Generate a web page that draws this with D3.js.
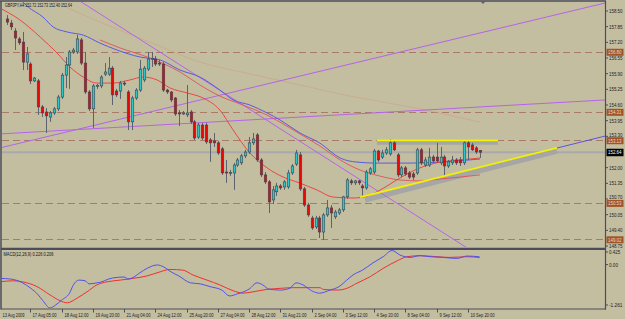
<!DOCTYPE html>
<html><head><meta charset="utf-8">
<script src="https://cdn.jsdelivr.net/npm/d3@7"></script>
<style>body{margin:0;background:#c4bea0;overflow:hidden}</style>
</head><body>
<svg id="c" width="625" height="319"></svg>
<script>
// ---------- DATA ----------
const chartTitle = "GBPJPY,H4 152.72 152.73 152.40 152.64";
const macdTitle = "MACD(12,26,9) 0.226 0.206";
// OHLC per H4 bar: [open, high, low, close]
const candles = [
[158.17,158.33,157.92,158.04],[158.00,158.13,157.71,157.84],[157.67,157.79,156.88,157.38],[157.34,157.42,157.09,157.18],
[157.21,157.63,156.05,156.38],[156.38,157.01,156.05,156.72],[156.30,156.38,155.47,155.60],[155.60,155.76,155.55,155.72],
[155.60,155.68,154.19,154.52],[154.52,154.60,154.10,154.27],[154.31,154.47,153.44,154.15],[154.10,154.35,153.90,154.27],
[154.27,154.52,154.19,154.44],[154.44,155.02,154.35,154.93],[154.93,155.93,154.85,155.84],[155.84,156.59,155.30,156.26],
[156.26,156.88,155.27,156.80],[156.80,156.97,156.72,156.88],[156.80,157.51,156.72,157.34],[157.30,157.38,156.26,156.34],
[156.34,156.80,155.06,155.14],[155.14,155.22,154.35,154.44],[154.44,155.47,153.65,155.39],[155.39,155.47,155.27,155.41],
[155.39,155.84,155.30,155.76],[155.88,156.34,155.80,155.97],[155.88,156.59,155.80,156.13],[156.13,156.22,154.60,155.02],
[155.18,155.27,154.93,155.02],[155.18,155.60,154.85,155.51],[155.51,155.60,155.39,155.47],[155.14,155.22,153.56,153.90],
[153.90,154.98,153.56,154.89],[154.89,155.30,154.81,155.22],[155.22,156.47,155.14,156.09],[155.64,156.22,155.55,156.13],
[156.09,156.80,156.01,156.51],[156.51,156.80,156.18,156.53],[156.51,156.63,156.22,156.30],[156.34,156.47,156.22,156.32],
[156.30,156.38,155.14,155.22],[155.22,155.27,155.06,155.14],[155.14,155.18,154.72,154.81],[154.89,154.93,154.15,154.23],
[154.27,154.39,153.73,154.25],[154.23,154.35,154.19,154.27],[154.19,155.43,154.10,154.27],[154.31,154.39,153.81,153.90],
[153.90,153.98,153.15,153.23],[153.27,153.86,153.19,153.77],[153.77,153.86,153.15,153.23],[153.77,153.86,152.98,153.07],
[153.15,153.23,152.24,153.03],[153.11,153.44,152.86,153.03],[153.03,153.11,152.53,152.61],[152.78,152.86,151.70,151.78],
[151.82,152.32,151.37,151.80],[151.78,151.91,151.66,151.80],[151.78,152.20,151.08,152.11],[152.11,152.40,152.03,152.32],
[152.20,152.57,152.11,152.49],[152.49,152.74,152.40,152.65],[152.65,153.27,152.57,153.03],[153.03,153.44,152.94,153.19],
[153.36,153.44,152.24,152.32],[152.32,152.40,151.61,151.70],[151.70,151.82,151.32,151.41],[151.41,151.49,150.12,150.58],
[150.66,151.24,150.49,151.08],[151.00,151.37,150.83,151.24],[151.24,151.32,151.08,151.16],[151.20,151.49,151.08,151.41],
[151.20,151.91,151.12,151.78],[151.78,152.15,151.70,152.07],[152.15,152.74,152.07,152.61],[152.53,152.65,151.03,151.12],
[151.12,151.20,150.37,150.45],[150.45,150.54,149.96,150.04],[149.91,150.00,149.42,149.50],[149.54,150.00,149.46,149.91],
[149.91,150.00,149.08,149.33],[149.33,150.12,149.00,150.04],[150.04,150.66,149.96,150.33],[150.33,150.45,149.50,150.12],
[149.96,150.25,149.87,150.16],[150.12,150.33,150.04,150.25],[150.25,150.83,150.16,150.79],[150.79,151.57,150.70,151.49],
[151.45,151.53,151.28,151.37],[151.37,151.49,151.28,151.45],[151.45,151.49,151.28,151.37],[151.24,151.32,150.83,151.16],
[151.16,151.91,151.08,151.82],[151.78,152.03,151.70,151.95],[151.82,152.78,151.74,152.69],[152.69,152.74,152.24,152.32],
[152.44,152.74,152.36,152.61],[152.61,152.86,152.53,152.74],[152.57,153.19,152.49,153.03],[153.03,153.11,152.69,152.74],
[152.53,152.61,151.61,151.70],[151.70,152.07,151.61,151.99],[151.99,152.07,151.66,151.74],[151.78,151.86,151.53,151.61],
[151.74,151.82,151.49,151.61],[151.78,152.82,151.70,152.74],[152.74,152.82,152.11,152.20],[152.11,152.44,152.03,152.32],
[152.11,152.82,152.03,152.44],[152.44,152.53,152.20,152.28],[152.44,153.03,152.20,152.28],[152.20,152.86,152.11,152.44],
[152.44,152.53,151.61,152.07],[152.07,152.32,151.99,152.24],[152.20,152.49,152.11,152.32],[152.32,152.40,152.11,152.20],
[152.32,152.44,152.07,152.20],[152.20,153.11,152.11,153.03],[153.03,153.11,152.32,152.86],[152.94,153.03,152.69,152.74],
[152.82,152.90,152.57,152.65],[152.72,152.73,152.40,152.64]
];
const priceTicks = [158.50,157.85,157.20,156.55,155.90,155.25,154.60,153.95,153.30,152.00,151.35,150.70,150.05,149.40,148.75];
const levelPrices = [156.80,154.31,153.13,150.53,149.02];
const bidPrice = 152.64;
const macdTicks = [0.425,0.00,-1.261];
const timeTickBars = [-1.5,6,14,22,30,38,46,54,62,70,78,86,94,102,110,118];
const timeTickLabels = ["13 Aug 2009","17 Aug 05:00","18 Aug 12:00","19 Aug 20:00","21 Aug 04:00","24 Aug 12:00","25 Aug 20:00","27 Aug 04:00","28 Aug 12:00","31 Aug 21:00","2 Sep 04:00","3 Sep 12:00","4 Sep 20:00","8 Sep 04:00","9 Sep 12:00","10 Sep 20:00"];
// moving averages: [bar index, price]
const maBlue = [[3.3,159.00],[5.4,158.67],[9.2,158.25],[11.8,157.84],[15.4,157.63],[19.5,157.50],[23.8,157.17],[28.2,156.88],[34.1,156.59],[39.2,156.47],[44.3,156.05],[49.4,155.76],[54.5,155.22],[57.9,154.81],[62.2,154.60],[66.6,154.27],[69.9,153.98],[75.0,153.44],[80.1,153.02],[85.3,152.40],[89.6,152.23],[94.7,152.19],[103.2,152.19],[110.9,152.23],[121.1,152.36]];
const maRedFast = [[-1.8,158.62],[3.3,158.13],[8.5,157.42],[12.8,156.76],[16.1,156.18],[19.5,155.76],[23.0,155.51],[27.1,155.51],[31.5,155.64],[34.8,155.76],[38.4,155.64],[41.7,155.31],[46.1,155.10],[50.2,154.89],[54.5,154.39],[57.9,153.56],[62.2,152.61],[66.6,151.99],[70.7,151.61],[75.0,151.36],[79.4,151.07],[83.5,150.78],[88.6,150.74],[92.2,150.82],[95.5,151.07],[100.6,151.57],[105.7,151.99],[110.9,152.23],[116.0,152.32],[121.1,152.40]];
const maRedMid = [[23.8,157.30],[28.9,156.97],[36.6,156.55],[44.3,155.97],[49.4,155.43],[54.5,154.97],[59.7,154.64],[66.6,154.18],[69.9,153.89],[75.0,153.40],[80.1,152.90],[85.3,152.32],[90.4,151.90],[95.5,151.65],[100.6,151.49],[105.7,151.45],[110.9,151.53],[116.0,151.61],[121.1,151.70]];
const maSlow = [[11.0,158.96],[23.8,158.04],[36.6,157.21],[49.4,156.38],[62.2,155.89],[75.0,155.43],[87.8,154.97],[103.2,154.52],[121.1,153.89]];
// trend lines: [[bar, price],[bar, price]]
const purpleLines = [
  [[-1.8,152.82],[153.1,158.83]],
  [[-1.8,153.40],[153.1,154.81]],
  [[18.2,158.96],[117.8,148.67]]
];
const blueRay = [[90.4,150.78],[153.1,153.31]];
const yellowLines = [
  [[94.7,153.13],[125.7,153.13]],
  [[90.4,150.78],[140.8,152.82]]
];
const grayBands = [
  [[94.7,153.05],[125.7,153.05]],
  [[91.7,150.66],[140.8,152.68]]
];
// MACD lines: [bar index, value]
const macdMain = [[-1.8,-0.40],[1,-0.42],[4,-0.53],[6,-0.68],[8,-0.88],[9.2,-1.05],[11,-1.26],[12.5,-1.17],[14,-1.03],[16,-0.83],[17,-0.59],[18.4,-0.45],[20,-0.47],[21,-0.56],[23,-0.53],[24,-0.51],[26,-0.42],[27,-0.39],[30,-0.36],[31,-0.42],[32,-0.39],[34,-0.24],[36,-0.10],[38.5,-0.01],[40,-0.06],[42,-0.21],[44,-0.33],[47,-0.53],[49.5,-0.56],[52,-0.64],[55,-0.74],[57,-0.91],[59,-0.85],[62,-0.71],[64,-0.53],[65.5,-0.59],[67,-0.71],[70,-0.74],[72.5,-0.68],[74,-0.53],[75.8,-0.59],[78,-0.76],[80,-0.83],[82.7,-0.74],[85,-0.64],[87,-0.45],[88.6,-0.30],[91,-0.16],[93.7,0.05],[96.3,0.23],[98.6,0.41],[100.6,0.28],[103.2,0.21],[105.7,0.26],[108.3,0.23],[111.6,0.21],[115.2,0.18],[117.8,0.25],[121,0.226]];
const macdSignal = [[-1.8,-0.50],[1.5,-0.47],[4,-0.50],[7.7,-0.64],[11,-0.88],[13.6,-1.05],[15.4,-1.11],[18,-0.97],[20.5,-0.79],[23,-0.59],[25.6,-0.50],[29,-0.45],[32.3,-0.40],[35.8,-0.33],[39.2,-0.21],[41.7,-0.14],[45,-0.16],[47.6,-0.30],[51.2,-0.45],[54.5,-0.59],[57.9,-0.76],[60.4,-0.83],[63,-0.79],[66.6,-0.72],[69.9,-0.69],[73.2,-0.67],[76.8,-0.67],[80.1,-0.67],[81,-0.72],[84.5,-0.74],[87,-0.69],[89.6,-0.54],[93,-0.35],[96.3,-0.11],[99.9,0.11],[102.4,0.23],[105.7,0.26],[110.1,0.23],[113.4,0.21],[117.8,0.23],[121,0.206]];

// ---------- DRAW ----------
const svg = d3.select("#c");
const BG = "#c4bea0", FRAME = "#4c4c5c";
const plotL = 2, plotR = 605, mainT = 2, mainB = 248, macdT = 250, macdB = 308;
const x = d3.scaleLinear().domain([0,121]).range([7,479.6]);
const y = d3.scaleLinear().domain([148.75,158.50]).range([246,11]);
const ym = d3.scaleLinear().domain([-1.261,0.425]).range([308,250]);
const FONT = "'Liberation Sans',Arial,sans-serif";

svg.append("rect").attr("width",625).attr("height",319).attr("fill",BG);
const defs = svg.append("defs");
defs.append("clipPath").attr("id","cm").append("rect").attr("x",plotL).attr("y",mainT).attr("width",plotR-plotL).attr("height",mainB-mainT-1);
defs.append("clipPath").attr("id","cd").append("rect").attr("x",plotL).attr("y",macdT).attr("width",plotR-plotL).attr("height",macdB-macdT);

const gm = svg.append("g").attr("clip-path","url(#cm)");
const seg = d3.line().x(d=>x(d[0])).y(d=>y(d[1]));
const smooth = d3.line().x(d=>x(d[0])).y(d=>y(d[1])).curve(d3.curveMonotoneX);

// level lines
gm.selectAll(".lvl").data(levelPrices).join("line")
  .attr("x1",plotL).attr("x2",plotR).attr("y1",d=>Math.round(y(d))+0.5).attr("y2",d=>Math.round(y(d))+0.5)
  .attr("stroke","#aa7a68").attr("stroke-width",1).attr("stroke-dasharray","7,4");
// bid line
gm.append("line").attr("x1",plotL).attr("x2",plotR).attr("y1",y(bidPrice)).attr("y2",y(bidPrice))
  .attr("stroke","#a9a9ad").attr("stroke-width",2);
// slow MA
gm.append("path").datum(maSlow).attr("d",smooth).attr("fill","none").attr("stroke","#d09a7c").attr("stroke-width",1).attr("opacity",0.5);
// gray bands
grayBands.forEach(b=>gm.append("path").datum(b).attr("d",seg).attr("stroke","#a6a6a6").attr("stroke-width",5).attr("fill","none"));
// trend lines
purpleLines.forEach(l=>gm.append("path").datum(l).attr("d",seg).attr("stroke","#b464e8").attr("stroke-width",1).attr("fill","none"));
gm.append("path").datum(blueRay).attr("d",seg).attr("stroke","#5656e0").attr("stroke-width",1).attr("fill","none");
// MAs
gm.append("path").datum(maBlue).attr("d",smooth).attr("fill","none").attr("stroke","#5a5ae0").attr("stroke-width",1);
gm.append("path").datum(maRedMid).attr("d",smooth).attr("fill","none").attr("stroke","#e0505a").attr("stroke-width",0.9);
gm.append("path").datum(maRedFast).attr("d",smooth).attr("fill","none").attr("stroke","#ec3a3a").attr("stroke-width",0.9);

// candles
const cg = gm.append("g");
candles.forEach((d,i)=>{
  const [o,h,l,c] = d;
  const cx = Math.round(x(i));
  cg.append("line").attr("x1",cx+0.5).attr("x2",cx+0.5).attr("y1",y(h)).attr("y2",y(l))
    .attr("stroke","#5c6270").attr("stroke-width",1);
  const top = y(Math.max(o,c)), bot = y(Math.min(o,c));
  const up = c > o;
  cg.append("rect").attr("x",cx-0.75).attr("y",top).attr("width",2.5).attr("height",Math.max(1,bot-top))
    .attr("fill", c===o ? "#4a5060" : (up ? "#2ec6c6" : "#e40808"))
    .attr("stroke","#3c4250").attr("stroke-width",0.6);
});
// yellow lines
yellowLines.forEach(l=>gm.append("path").datum(l).attr("d",seg).attr("stroke","#f4f400").attr("stroke-width",1.8).attr("fill","none"));

// MACD
const gd = svg.append("g").attr("clip-path","url(#cd)");
const mline = d3.line().x(d=>x(d[0])).y(d=>ym(d[1])).curve(d3.curveMonotoneX);
gd.append("path").datum(macdSignal).attr("d",mline).attr("fill","none").attr("stroke","#ee3030").attr("stroke-width",1);
gd.append("path").datum(macdMain).attr("d",mline).attr("fill","none").attr("stroke","#5050ee").attr("stroke-width",1);

// frames
const fr = svg.append("g").attr("stroke",FRAME).attr("fill","none");
fr.append("line").attr("x1",0).attr("x2",606).attr("y1",1).attr("y2",1).attr("stroke-width",1.5);
fr.append("line").attr("x1",1).attr("x2",1).attr("y1",1).attr("y2",309.5).attr("stroke-width",1.5);
fr.append("line").attr("x1",605.5).attr("x2",605.5).attr("y1",1).attr("y2",309.5).attr("stroke-width",1.2);
fr.append("line").attr("x1",1).attr("x2",606).attr("y1",248.8).attr("y2",248.8).attr("stroke-width",2.2);
fr.append("line").attr("x1",1).attr("x2",606).attr("y1",309).attr("y2",309).attr("stroke-width",1.2);

// text helper: place text and compress horizontally to a target width
function label(g, str, tx, ty, width, size, color){
  const t = g.append("text").attr("x",0).attr("y",0).attr("font-family",FONT).attr("font-size",size)
    .attr("fill",color).text(str);
  const w = t.node().getComputedTextLength() || 1;
  t.attr("transform",`translate(${tx},${ty}) scale(${(width/w).toFixed(4)},1)`);
  return t;
}

// price axis
const ax = svg.append("g");
priceTicks.forEach(p=>{
  const yy = y(p);
  // nudge a tick label up when a level box sits just below it
  const near = levelPrices.some(l => y(l) > yy && y(l) - yy < 6);
  ax.append("line").attr("x1",605).attr("x2",608).attr("y1",yy).attr("y2",yy).attr("stroke",FRAME);
  label(ax, p.toFixed(2), 609, yy + (near ? 0.3 : 2), 13.5, 5.6, "#1c1c1c");
});
levelPrices.forEach(p=>{
  const yy = y(p);
  ax.append("rect").attr("x",606.5).attr("y",yy-3.2).attr("width",17).attr("height",7).attr("fill","#a0542c");
  label(ax, p.toFixed(2), 608, yy+2.2, 13.5, 5.4, "#f0dcb8");
});
{
  const yy = y(bidPrice);
  ax.append("rect").attr("x",606.5).attr("y",yy-3.5).attr("width",17).attr("height",7.5).attr("fill","#000");
  label(ax, bidPrice.toFixed(2), 608, yy+2, 13.5, 5.6, "#fff");
}
// macd axis
macdTicks.forEach((v,i)=>{
  const yy = ym(v);
  const ty = i===0 ? yy+4 : (i===2 ? yy-1 : yy+2);
  ax.append("line").attr("x1",605).attr("x2",608).attr("y1",ty-2).attr("y2",ty-2).attr("stroke",FRAME);
  const s = v===0 ? "0.00" : String(v);
  label(ax, s, 609, ty, s.length*2.25, 5.6, "#1c1c1c");
});

// time axis
timeTickBars.forEach((b,i)=>{
  const xx = i===0 ? 1 : Math.round(x(b))+0.5;
  if(i>0) ax.append("line").attr("x1",xx).attr("x2",xx).attr("y1",309).attr("y2",312.5).attr("stroke",FRAME);
  const lab = timeTickLabels[i];
  label(ax, lab, i===0?2.5:xx+2, 316.5, lab.length*2.0, 5.8, "#1c1c1c");
});

// titles
label(svg, chartTitle, 5, 7.3, 67, 6, "#111");
label(svg, macdTitle, 3.5, 256, 50, 5.8, "#111");
// chart shift marker
svg.append("path").attr("d","M480,1 L486,1 L483,4 Z").attr("fill","#5a6478");
</script>
</body></html>
